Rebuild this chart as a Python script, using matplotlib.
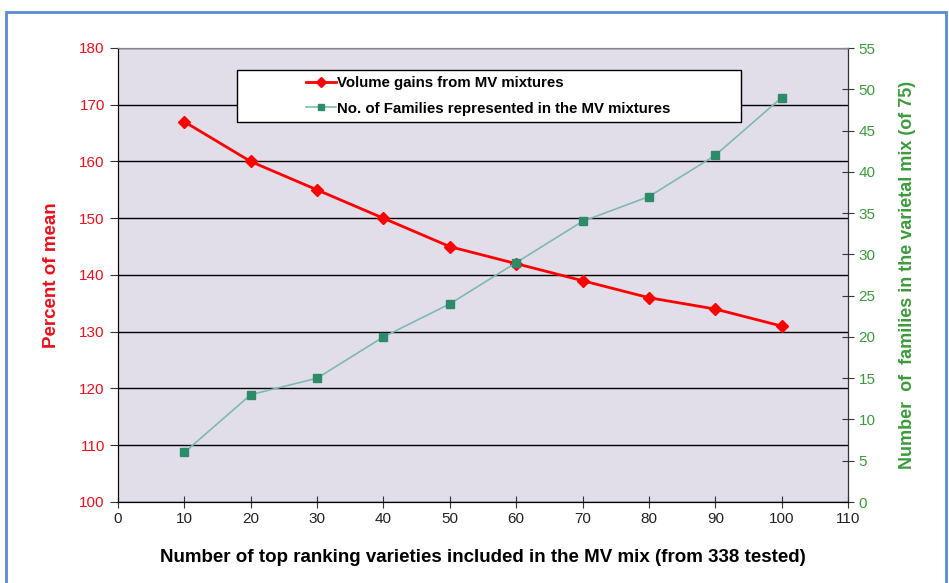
import matplotlib.pyplot as plt
from matplotlib.patches import Rectangle

x_vals = [10, 20, 30, 40, 50, 60, 70, 80, 90, 100]
volume_gain = [167, 160, 155, 150, 145, 142, 139, 136, 134, 131]
families = [6, 13, 15, 20, 24, 29, 34, 37, 42, 49]

plt.rcParams['font.family'] = ['Liberation Sans', 'DejaVu Sans']

fig = plt.figure(figsize=(9.49, 5.83), dpi=100)
fig.patches.append(Rectangle((6 / 949, -0.01), 940 / 949, 1 - 12 / 583 + 0.01,
                             transform=fig.transFigure, fill=False,
                             edgecolor='#5B8BD0', linewidth=2))

ax = fig.add_axes([118 / 949, 1 - 502 / 583, 730 / 949, 454 / 583])
ax.set_facecolor('#E1DEEA')
ax2 = ax.twinx()

l1, = ax.plot(x_vals, volume_gain, color='#FF0000', lw=2, marker='D', ms=6,
              markerfacecolor='#FF0000', markeredgecolor='#FF0000',
              label='Volume gains from MV mixtures', zorder=5)
l2, = ax2.plot(x_vals, families, color='#7FB8B4', lw=1.2, marker='s', ms=6,
               markerfacecolor='#2E8B6A', markeredgecolor='#2E8B6A',
               label='No. of Families represented in the MV mixtures')

ax.set_xlim(0, 110)
ax.set_ylim(100, 180)
ax2.set_ylim(0, 55)
ax.set_xticks(range(0, 111, 10))
ax.set_yticks(range(100, 181, 10))
ax2.set_yticks(range(0, 56, 5))
ax.yaxis.grid(True, color='black', lw=1)
ax.set_axisbelow(True)

ax.spines['top'].set_color('#888888')
ax2.spines['top'].set_color('#888888')
ax2.spines['right'].set_color('#333333')
ax.spines['left'].set_color('#333333')

ax.tick_params(axis='y', direction='out', colors='#333333', labelcolor='#E8101C',
               labelsize=11, length=6)
ax.tick_params(axis='x', direction='inout', colors='#333333', labelcolor='#222222',
               labelsize=11, length=8)
ax2.tick_params(axis='y', direction='inout', colors='#333333', labelcolor='#3C9A3C',
                labelsize=11, length=8)

ax.set_ylabel('Percent of mean', color='#E8101C', fontsize=13.5, fontweight='bold',
              labelpad=14)
ax2.set_ylabel('Number  of  families in the varietal mix (of 75)', color='#3C9A3C',
               fontsize=13, fontweight='bold', labelpad=17)
ax.set_xlabel('Number of top ranking varieties included in the MV mix (from 338 tested)',
              fontsize=13.5, fontweight='bold', labelpad=16)

# legend box drawn separately, entries centred inside it
ax2.add_patch(Rectangle((237 / 949, 1 - 122 / 583), 504 / 949, 52 / 583,
                        transform=fig.transFigure, facecolor='white',
                        edgecolor='black', linewidth=1, zorder=9, clip_on=False))
leg = ax2.legend(handles=[l1, l2], loc='center',
                 bbox_to_anchor=(488 / 949, 1 - 96 / 583),
                 bbox_transform=fig.transFigure, frameon=False,
                 fontsize=10.8, handlelength=2.0, handletextpad=0.1,
                 borderpad=0.2, labelspacing=0.75, markerscale=0.8)
leg._legend_box.align = 'left'
for t in leg.get_texts():
    t.set_fontweight('bold')
leg.set_zorder(10)

fig.savefig('out.png', dpi=100)
